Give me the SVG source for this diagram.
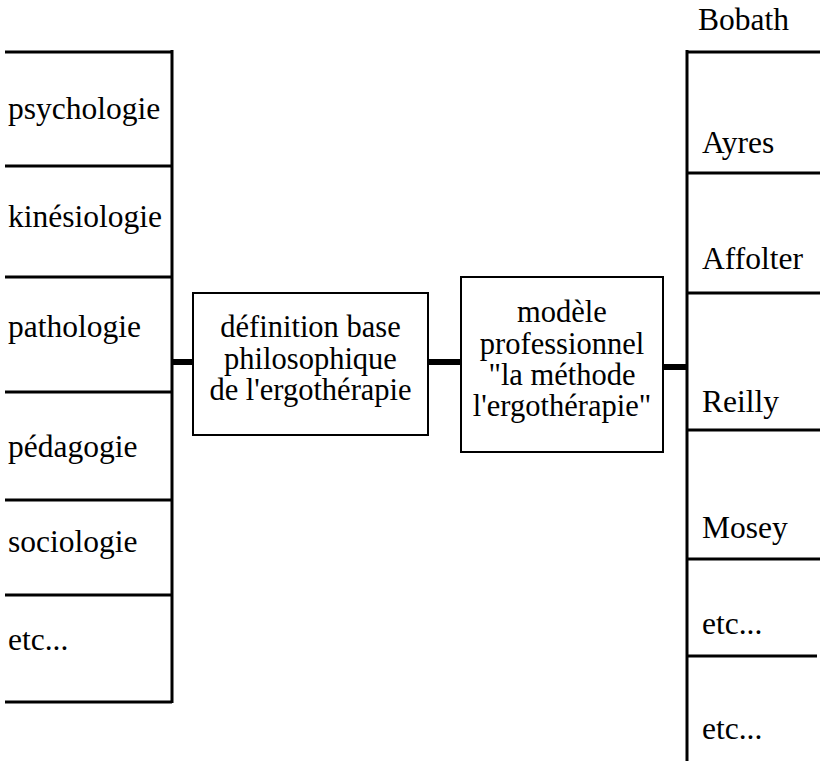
<svg xmlns="http://www.w3.org/2000/svg" width="820" height="761" viewBox="0 0 820 761">
  <style>
    text { font-family: "Liberation Serif", "Times New Roman", serif; font-size: 31.5px; fill: #000; }
    .mid { text-anchor: middle; font-size: 30.5px; }
    .rule { stroke: #000; stroke-width: 3; fill: none; }
    .box { stroke: #000; stroke-width: 2; fill: #fff; }
    .link { stroke: #000; stroke-width: 6; fill: none; }
  </style>
  <rect width="820" height="761" fill="#fff"/>

  <!-- left column: disciplines -->
  <g id="disciplines">
    <path class="rule" d="M172 50 V703 M5 52 H172 M5 166 H172 M5 277 H172 M5 392 H172 M5 500 H172 M5 595 H172 M5 702 H172"/>
    <text x="8" y="119">psychologie</text>
    <text x="8" y="227">kinésiologie</text>
    <text x="8" y="337">pathologie</text>
    <text x="8" y="457">pédagogie</text>
    <text x="8" y="552">sociologie</text>
    <text x="8" y="650">etc...</text>
  </g>

  <!-- central box: philosophical definition -->
  <g id="definition">
    <rect class="box" x="193" y="293" width="235" height="142"/>
    <text class="mid" x="310.5" y="337">définition base</text>
    <text class="mid" x="310.5" y="369">philosophique</text>
    <text class="mid" x="310.5" y="400">de l'ergothérapie</text>
  </g>

  <!-- professional model box -->
  <g id="modele">
    <rect class="box" x="461" y="277" width="202" height="175"/>
    <text class="mid" x="562" y="322">modèle</text>
    <text class="mid" x="562" y="354">professionnel</text>
    <text class="mid" x="562" y="385">"la méthode</text>
    <text class="mid" x="562" y="416">l'ergothérapie"</text>
  </g>

  <!-- right column: models -->
  <g id="auteurs">
    <path class="rule" d="M687 50 V761 M687 52 H820 M687 173 H820 M687 293 H820 M687 430 H820 M687 559 H820 M687 656 H817"/>
    <text x="698" y="30">Bobath</text>
    <text x="702" y="153">Ayres</text>
    <text x="702" y="269">Affolter</text>
    <text x="702" y="412">Reilly</text>
    <text x="702" y="538">Mosey</text>
    <text x="702" y="634">etc...</text>
    <text x="702" y="739">etc...</text>
  </g>

  <!-- connectors -->
  <g id="connectors">
    <path class="link" d="M172 362 H193"/>
    <path class="link" d="M428 362 H461"/>
    <path class="link" d="M663 367 H687"/>
  </g>
</svg>
